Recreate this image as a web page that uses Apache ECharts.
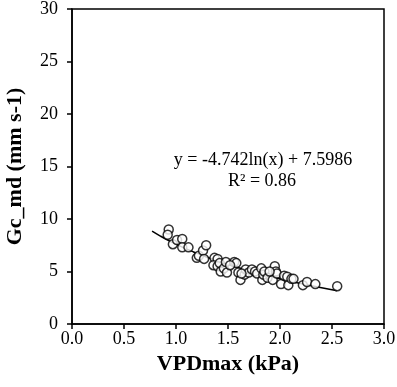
<!DOCTYPE html>
<html>
<head>
<meta charset="utf-8">
<script src="https://cdn.jsdelivr.net/npm/echarts@6/dist/echarts.min.js"></script>
<style>
html, body { margin: 0; padding: 0; background: #fff; }
#main { width: 397px; height: 387px; }
</style>
</head>
<body>
<div id="main"></div>
<script>
var vpd = [0.93, 0.92, 0.97, 1.01, 1.06, 1.06, 1.12, 1.20, 1.22, 1.26, 1.29, 1.27, 1.37, 1.40, 1.36, 1.40, 1.42, 1.43, 1.46, 1.48, 1.49, 1.56, 1.58, 1.60, 1.62, 1.66, 1.67, 1.70, 1.73, 1.76, 1.78, 1.82, 1.83, 1.84, 1.85, 1.88, 1.93, 1.95, 1.96, 1.97, 2.01, 2.04, 2.07, 2.08, 2.11, 2.13, 2.22, 2.26, 2.34, 2.55, 1.52, 1.63, 1.90];
var gc = [9.0, 8.5, 7.6, 8.0, 8.1, 7.3, 7.3, 6.3, 6.5, 7.0, 7.5, 6.2, 6.3, 6.2, 5.6, 5.5, 5.8, 5.0, 5.3, 5.9, 4.9, 5.9, 5.8, 4.9, 4.2, 4.7, 5.2, 4.9, 5.2, 5.0, 4.8, 5.3, 4.2, 4.7, 5.0, 4.4, 4.2, 5.5, 5.0, 4.8, 3.8, 4.6, 4.5, 3.7, 4.3, 4.3, 3.7, 4.0, 3.8, 3.6, 5.6, 4.8, 5.0];

// log trend line from the printed equation
var slope = -4.742;
var intercept = 7.5986;
var fitX = [0.77, 0.85, 0.95, 1.05, 1.15, 1.3, 1.45, 1.6, 1.75, 1.9, 2.05, 2.2, 2.35, 2.55];

var xTicks = ['0.0', '0.5', '1.0', '1.5', '2.0', '2.5', '3.0'];
var yTicks = [0, 5, 10, 15, 20, 25, 30];

var pts = [];
for (var i = 0; i < vpd.length; i++) {
	pts.push([vpd[i], gc[i]]);
}
var fit = [];
for (var j = 0; j < fitX.length; j++) {
	fit.push([fitX[j], slope * Math.log(fitX[j]) + intercept]);
}

var serif = '"Liberation Serif", "Times New Roman", serif';
var myChart = echarts.init(document.getElementById('main'));
var option = {
	animation: false,
	backgroundColor: '#fff',
	grid: {
		left: 72,
		right: 13,
		top: 9,
		bottom: 63,
		outerBoundsMode: 'none',
		containLabel: false,
		show: true,
		borderColor: '#000',
		borderWidth: 1.5
	},
	xAxis: {
		type: 'value',
		min: 0,
		max: 3,
		interval: 0.5,
		name: 'VPDmax (kPa)',
		nameLocation: 'middle',
		nameGap: 28,
		nameTextStyle: { fontFamily: serif, fontWeight: 'bold', fontSize: 22, color: '#000' },
		axisLine: { lineStyle: { color: '#000', width: 1.5 } },
		axisTick: { inside: false, length: 5, lineStyle: { color: '#000', width: 1.5 } },
		axisLabel: {
			margin: 6,
			fontFamily: serif,
			fontSize: 18,
			color: '#000',
			formatter: function(v) {
				return xTicks[Math.round(v / 0.5)];
			}
		},
		splitLine: { show: false }
	},
	yAxis: {
		type: 'value',
		min: 0,
		max: 30,
		interval: 5,
		name: 'Gc_md (mm s-1)',
		nameLocation: 'middle',
		nameGap: 46,
		nameTextStyle: { fontFamily: serif, fontWeight: 'bold', fontSize: 22, color: '#000' },
		axisLine: { show: true, lineStyle: { color: '#000', width: 1.5 } },
		axisTick: { show: true, inside: false, length: 5, lineStyle: { color: '#000', width: 1.5 } },
		axisLabel: {
			margin: 14,
			fontFamily: serif,
			fontSize: 18,
			color: '#000',
			formatter: function(v) {
				return yTicks.indexOf(v) >= 0 ? String(v) : '';
			}
		},
		splitLine: { show: false }
	},
	graphic: [{
		type: 'text',
		x: 263,
		y: 160,
		style: {
			text: 'y = -4.742ln(x) + 7.5986',
			font: '18px ' + serif,
			fill: '#000',
			align: 'center',
			verticalAlign: 'middle'
		}
	}, {
		type: 'text',
		x: 262,
		y: 181,
		style: {
			text: 'R² = 0.86',
			font: '18px ' + serif,
			fill: '#000',
			align: 'center',
			verticalAlign: 'middle'
		}
	}],
	series: [{
		name: 'fit',
		type: 'line',
		data: fit,
		smooth: true,
		showSymbol: false,
		symbol: 'none',
		lineStyle: { color: '#000', width: 1.5 },
		z: 1
	}, {
		name: 'obs',
		type: 'scatter',
		data: pts,
		symbol: 'circle',
		symbolSize: 9,
		itemStyle: { color: '#fff', borderColor: '#000', borderWidth: 1.5 },
		z: 2
	}]
};
myChart.setOption(option);
</script>
</body>
</html>
